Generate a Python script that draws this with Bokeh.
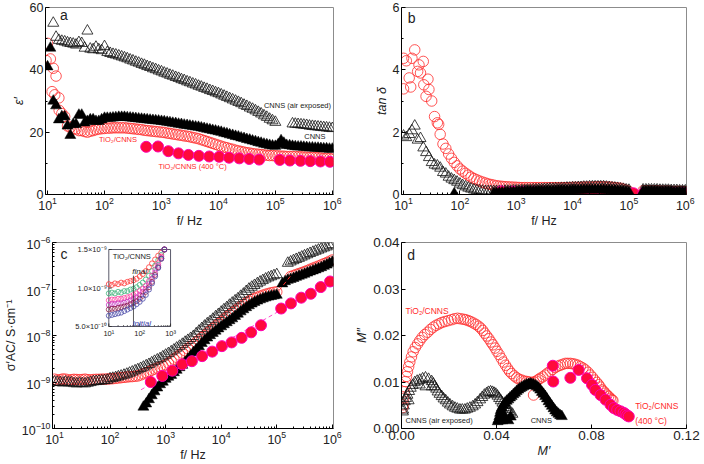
import math
from bokeh.plotting import figure
from bokeh.layouts import column, row
from bokeh.models import Range1d, FixedTicker, Label, LogScale, LinearScale, NumeralTickFormatter
from bokeh.core.properties import value
from bokeh.embed import file_html
from bokeh.resources import INLINE

nan = float("nan")

# ---------------- data ----------------
# measurement frequencies (20 per decade, 10 Hz .. 1 MHz)
MANTISSA = [1.0, 1.12, 1.26, 1.41, 1.58, 1.78, 2.0, 2.24, 2.51, 2.82,
            3.16, 3.55, 3.98, 4.47, 5.01, 5.62, 6.31, 7.08, 7.94, 8.91]
FREQ = [m * 10.0 ** e for e in range(1, 6) for m in MANTISSA] + [1.0e6]
# sparse frequencies of the TiO2/CNNS (400 °C) sample
F400 = [540, 870, 1320, 1990, 2970, 4540, 6900, 10300, 15400, 23300, 34700,
        52000, 120000, 180000, 276000, 410000, 620000, 910000]

# (a) permittivity, one row per decade
EPS_AIR = [nan, nan, 55.0, 50.5, 49.5, 49.2, 49.0, 48.7, 48.5, 48.3, 48.0, 48.8, 48.5, 47.0, 52.5, 46.7, 46.5, 47.3, 46.5, 46.2,
           47.5, 45.6, 45.3, 45.0, 44.8, 44.5, 44.2, 43.9, 43.6, 43.2, 42.9, 42.5, 42.2, 41.8, 41.5, 41.1, 40.8, 40.4, 40.1, 39.7,
           39.4, 39.0, 38.7, 38.3, 38.0, 37.6, 37.3, 36.9, 36.6, 36.2, 35.9, 35.5, 35.2, 34.8, 34.5, 34.1, 33.8, 33.4, 33.1, 32.7,
           32.4, 32.0, 31.6, 31.2, 30.8, 30.4, 30.0, 29.6, 29.2, 28.7, 28.3, 27.8, 27.4, 26.9, 26.4, 25.9, 25.3, 24.8, 24.2, 23.7,
           23.2, nan, nan, nan, nan, nan, 22.7, 22.6, 22.5, 22.4, 22.3, 22.2, 22.0, 21.9, 21.8, 21.7, 21.6, 21.5, 21.4, 21.3,
           21.2]
EPS_CNNS = [41.0, 47.0, 30.0, 28.5, 24.0, 25.0, 25.0, 22.0, 19.0, 22.5, 22.5, 25.5, 25.5, 23.0, 23.5, 24.0, 24.0, 23.5, 23.5, 24.0,
            24.5, 24.5, 24.5, 24.6, 24.7, 24.8, 24.8, 24.8, 24.7, 24.6, 24.5, 24.4, 24.3, 24.2, 24.1, 24.0, 23.9, 23.8, 23.7, 23.6,
            23.5, 23.4, 23.2, 23.1, 22.9, 22.8, 22.6, 22.5, 22.3, 22.2, 22.0, 21.9, 21.7, 21.6, 21.4, 21.2, 21.0, 20.8, 20.6, 20.4,
            20.2, 20.0, 19.7, 19.5, 19.2, 19.0, 18.7, 18.5, 18.2, 18.0, 17.7, 17.5, 17.2, 17.0, 16.7, 16.5, 16.2, 16.0, 15.8, 15.6,
            15.5, 16.0, 17.3, 16.5, 15.8, 15.7, 15.5, 15.4, 15.3, 15.3, 15.2, 15.1, 15.0, 15.0, 14.9, 14.9, 14.8, 14.7, 14.7, 14.6,
            14.6]
EPS_TIO = [48.5, 43.5, 40.5, 38.0, 31.0, 26.0, 25.0, 22.0, 21.5, 21.0, 21.0, 20.5, 20.5, 20.2, 20.0, 20.3, 20.5, 20.8, 21.0, 21.1,
           21.2, 21.3, 21.3, 21.4, 21.4, 21.4, 21.4, 21.4, 21.3, 21.2, 21.1, 21.0, 20.9, 20.8, 20.6, 20.5, 20.4, 20.3, 20.2, 20.1,
           20.0, 19.9, 19.7, 19.6, 19.4, 19.3, 19.1, 19.0, 18.8, 18.7, 18.5, 18.3, 18.1, 17.9, 17.6, 17.3, 17.0, 16.7, 16.4, 16.1,
           15.8, 15.5, 15.2, 15.0, 14.7, 14.5, 14.2, 14.0, 13.8, 13.6, 13.4, 13.3, 13.1, 13.0, 12.9, 12.8, 12.7, 12.6, 12.5, 12.5,
           12.4, 12.4, 12.3, 12.3, 12.2, 12.2, 12.2, 12.2, 12.1, 12.1, 12.0, 12.0, 11.9, 11.9, 11.8, 11.8, 11.7, 11.6, 11.6, 11.5,
           11.4]
EPS_TIO_LF_F = [9.4, 12.0, 13.4, 16.0]
EPS_TIO_LF_V = [43.0, 33.0, 32.0, 27.0]
EPS_400 = [15.3, 15.4, 13.9, 13.2, 12.7, 12.4, 12.2, 12.1, 11.8, 11.6, 11.4,
           11.2, 11.1, 10.9, 10.8, 10.7, 10.6, 10.5]

# (b) loss tangent
TAN_TIO = [4.37, 4.29, 3.74, 4.37, 4.64, 3.95, 3.90, 4.27, 3.15, 3.37, 3.00, 2.50, 2.30, 1.93, 1.62, 1.48, 1.30, 1.16, 1.03, 0.92,
           0.82, 0.75, 0.68, 0.62, 0.56, 0.51, 0.47, 0.43, 0.40, 0.37, 0.34, 0.32, 0.30, 0.28, 0.27, 0.26, 0.25, 0.245, 0.24, 0.235,
           0.23, 0.225, 0.22, 0.22, 0.22, 0.22, 0.22, 0.22, 0.22, 0.22, 0.22, 0.22, 0.22, 0.22, 0.22, 0.22, 0.22, 0.22, 0.22, 0.22,
           0.23, 0.23, 0.23, 0.23, 0.24, 0.24, 0.24, 0.24, 0.25, 0.25, 0.25, 0.25, 0.24, 0.24, 0.23, 0.22, 0.21, 0.20, 0.17, 0.14,
           0.10, nan, nan, nan, nan, 0.12, 0.12, 0.12, 0.12, 0.12, 0.12, 0.11, 0.11, 0.11, 0.11, 0.10, 0.10, 0.10, 0.10, 0.10,
           0.09]
TAN_TIO_LF_F = [10.0, 13.4, 18.8, 22.9, 27.1, 42.0]
TAN_TIO_LF_V = [3.39, 3.45, 4.16, 3.52, 3.70, 2.25]
TAN_AIR = [1.88, 1.83, 1.93, 2.05, 2.20, 1.75, 1.80, 1.50, 1.35, 1.19, 1.03, 0.95, 0.92, 0.85, 0.71, 0.66, 0.56, 0.50, 0.45, 0.40,
           0.34, 0.29, 0.25, 0.21, 0.18, 0.15, 0.13, 0.12, 0.11, 0.10, 0.10, 0.10, 0.10, 0.10, 0.10, 0.10, 0.11, 0.11, 0.11, 0.12,
           0.12, 0.12, 0.13, 0.13, 0.14, 0.14, 0.15, 0.15, 0.16, 0.16, 0.17, 0.17, 0.18, 0.18, 0.19, 0.19, 0.20, 0.20, 0.21, 0.21,
           0.22, 0.22, 0.23, 0.23, 0.24, 0.24, 0.25, 0.25, 0.25, 0.25, 0.25, 0.25, 0.24, 0.23, 0.22, 0.21, 0.20, 0.18, 0.17, 0.15,
           0.14, nan, nan, nan, nan, 0.15, 0.15, 0.15, 0.15, 0.15, 0.15, 0.14, 0.14, 0.14, 0.14, 0.13, 0.13, 0.13, 0.12, 0.12,
           0.12]
TAN_CNNS = ([nan] * 18 + [0.03, nan] +
            [nan] * 12 + [0.04, 0.045, 0.05, 0.055, 0.06, 0.065, 0.07, 0.075] +
            [0.08, 0.085, 0.09, 0.095, 0.10, 0.10, 0.10, 0.105, 0.11, 0.11, 0.11, 0.115, 0.12, 0.12, 0.12, 0.125, 0.13, 0.13, 0.13, 0.135] +
            [0.14, 0.14, 0.14, 0.145, 0.15, 0.15, 0.15, 0.15, 0.15, 0.15, 0.15, 0.15, 0.14, 0.14, 0.13, 0.13, 0.12, 0.11, 0.10, 0.09] +
            [0.08, nan, nan, nan, nan, 0.10, 0.10, 0.10, 0.10, 0.10, 0.10, 0.09, 0.09, 0.09, 0.09, 0.09, 0.08, 0.08, 0.08, 0.08] +
            [0.08])
TAN_400 = [0.10, 0.09, 0.08, 0.07, 0.07, 0.06, 0.06, 0.06, 0.06, 0.06, 0.06,
           0.06, 0.04, 0.04, 0.05, 0.05, 0.05, 0.05]

# (c) AC conductivity, in nS·cm⁻¹
NS = 1e-9
SIG_AIR = [1.00, 0.99, 0.98, 0.96, 1.00, 0.97, 0.97, 0.93, 0.92, 0.95, 0.93, 0.92, 0.95, 0.98, 1.02, 1.03, 1.05, 1.06, 1.08, 1.10,
           1.18, 1.21, 1.25, 1.30, 1.35, 1.41, 1.48, 1.56, 1.65, 1.75, 1.85, 1.97, 2.10, 2.25, 2.40, 2.60, 2.80, 3.00, 3.20, 3.50,
           3.8, 4.1, 4.5, 4.9, 5.4, 5.9, 6.5, 7.2, 7.9, 8.7, 9.6, 11.0, 12.5, 14.2, 16.0, 18.0, 20.0, 22.5, 25.5, 28.5,
           32, 36, 40, 45, 50, 56, 62, 70, 78, 89, 100, 110, 120, 131, 142, 153, 165, 175, 185, 195,
           205, nan, nan, nan, 360, 385, 410, 435, 460, 490, 520, 550, 585, 620, 655, 690, 730, 770, 810, 860,
           910]
SIG_TIO = [1.15, 1.10, 1.12, 1.16, 1.15, 1.10, 1.12, 1.14, 1.13, 1.12, 1.13, 1.15, 1.12, 1.11, 1.13, 1.14, 1.14, 1.15, 1.15, 1.16,
           1.17, 1.18, 1.20, 1.22, 1.24, 1.26, 1.28, 1.30, 1.31, 1.33, 1.35, 1.42, 1.50, 1.59, 1.68, 1.79, 1.90, 2.00, 2.10, 2.22,
           2.35, 2.55, 2.80, 3.10, 3.40, 3.80, 4.20, 4.70, 5.20, 5.80, 6.40, 7.20, 8.00, 9.00, 10.0, 11.3, 12.7, 14.3, 16.0, 18.0,
           20.0, 22.5, 25.0, 28.0, 31.0, 34.5, 38.0, 42.0, 46.0, 50.5, 55.0, 59.0, 63.0, 66.5, 70.0, 73.5, 77.0, 80.0, 83.0, 85.0,
           87.0, nan, nan, nan, nan, 185, 195, 205, 215, 225, 237, 250, 265, 280, 295, 310, 330, 350, 370, 395,
           420]
SIG_CNNS = ([nan] * 20 +
            [nan] * 12 + [0.29, 0.34, 0.42, 0.51, 0.62, 0.75, 0.88, 1.00] +
            [1.15, 1.28, 1.40, 1.60, 1.80, 2.05, 2.30, 2.65, 3.10, 3.65, 4.30, 5.00, 5.80, 6.80, 7.80, 8.90, 10.0, 11.2, 12.5, 14.0] +
            [15.5, 17.2, 19.0, 21.0, 23.0, 26.0, 29.0, 32.5, 36.0, 40.0, 44.0, 48.0, 52.0, 55.5, 59.0, 62.0, 65.0, 67.5, 70.0, 72.0] +
            [74.0, nan, 130, 145, 155, 162, 170, 180, 190, 200, 210, 222, 235, 247, 260, 275, 290, 310, 330, 355] +
            [380])
SIG_400 = [1.00, 1.35, 1.75, 2.40, 2.80, 3.60, 4.50, 5.90, 7.10, 8.90, 11.7, 16.6, 38.0, 49.0, 65.0, 79.0, 110, 145]
FIT_400_F = [360, 1.0e6]
FIT_400_S = [0.68, 150]
GAP_TIO_F = [1.1e5, 1.8e5]
GAP_TIO_S = [93, 195]

# (c) inset: TiO2/CNNS, initial -> final runs (nS·cm⁻¹)
INSET_F = FREQ[0:37:2]
INSET_RUNS = [
    ("#ff3b3b", [1.05, 1.04, 1.06, 1.05, 1.07, 1.06, 1.08, 1.09, 1.10, 1.12, 1.15, 1.18, 1.22, 1.27, 1.32, 1.37, 1.42, 1.46, 1.50]),
    ("#3fb37a", [0.93, 0.94, 0.93, 0.95, 0.94, 0.96, 0.96, 0.98, 0.99, 1.01, 1.04, 1.07, 1.11, 1.16, 1.22, 1.29, 1.36, 1.43, 1.50]),
    ("#ff3fa0", [0.84, 0.85, 0.85, 0.86, 0.86, 0.87, 0.88, 0.89, 0.91, 0.93, 0.96, 0.99, 1.03, 1.09, 1.16, 1.24, 1.32, 1.41, 1.50]),
    ("#c43cc4", [0.78, 0.79, 0.79, 0.80, 0.80, 0.81, 0.82, 0.84, 0.86, 0.88, 0.91, 0.95, 0.99, 1.05, 1.12, 1.20, 1.29, 1.39, 1.50]),
    ("#8a1f4a", [0.72, 0.73, 0.73, 0.74, 0.75, 0.76, 0.77, 0.79, 0.81, 0.83, 0.86, 0.90, 0.95, 1.01, 1.08, 1.17, 1.27, 1.38, 1.50]),
    ("#4a4aa8", [0.64, 0.65, 0.66, 0.67, 0.68, 0.70, 0.72, 0.74, 0.76, 0.79, 0.82, 0.86, 0.91, 0.98, 1.06, 1.15, 1.26, 1.38, 1.50]),
]
INSET_MARK_F = 63.0

# (d) electric modulus, (M', M'') pairs
D_TIO = [(0.0005, 0.0045), (0.0007, 0.0051), (0.0009, 0.0065), (0.0011, 0.0079), (0.0014, 0.0090),
         (0.0017, 0.0101), (0.0021, 0.0112), (0.0025, 0.0122), (0.0030, 0.0133), (0.0035, 0.0143),
         (0.0042, 0.0154), (0.0049, 0.0165), (0.0058, 0.0174), (0.0068, 0.0182), (0.0077, 0.0189),
         (0.0087, 0.0196), (0.0098, 0.0202), (0.0110, 0.0207), (0.0122, 0.0213), (0.0134, 0.0218),
         (0.0146, 0.0222), (0.0158, 0.0225), (0.0170, 0.0228), (0.0183, 0.0230), (0.0197, 0.0232),
         (0.0211, 0.0234), (0.0223, 0.0236), (0.0236, 0.0237), (0.0248, 0.0236), (0.0260, 0.0235),
         (0.0270, 0.0234), (0.0281, 0.0232), (0.0291, 0.0230), (0.0302, 0.0227), (0.0313, 0.0224),
         (0.0324, 0.0220), (0.0333, 0.0216), (0.0342, 0.0211), (0.0350, 0.0205), (0.0359, 0.0199),
         (0.0368, 0.0193), (0.0377, 0.0186), (0.0385, 0.0180), (0.0394, 0.0173), (0.0402, 0.0166),
         (0.0411, 0.0159), (0.0420, 0.0151), (0.0429, 0.0143), (0.0438, 0.0136), (0.0447, 0.0129),
         (0.0455, 0.0123), (0.0464, 0.0118), (0.0475, 0.0113), (0.0485, 0.0109), (0.0495, 0.0106),
         (0.0506, 0.0104), (0.0517, 0.0102), (0.0528, 0.0101), (0.0538, 0.0100), (0.0549, 0.0099),
         (0.0558, 0.0100), (0.0567, 0.0102), (0.0576, 0.0105), (0.0584, 0.0108), (0.0595, 0.0111),
         (0.0605, 0.0115), (0.0615, 0.0119), (0.0626, 0.0123), (0.0636, 0.0127), (0.0647, 0.0131),
         (0.0658, 0.0134), (0.0668, 0.0136), (0.0679, 0.0138), (0.0690, 0.0140), (0.0700, 0.0140),
         (0.0711, 0.0140), (0.0722, 0.0139), (0.0732, 0.0138), (0.0743, 0.0136), (0.0753, 0.0133),
         (0.0764, 0.0130), (0.0774, 0.0126), (0.0785, 0.0121), (0.0795, 0.0115), (0.0804, 0.0110),
         (0.0813, 0.0104), (0.0822, 0.0099), (0.0830, 0.0094), (0.0837, 0.0089), (0.0844, 0.0083),
         (0.0851, 0.0080), (0.0858, 0.0076), (0.0865, 0.0072), (0.0872, 0.0069), (0.0879, 0.0065),
         (0.0886, 0.0062), (0.0890, 0.0060), (0.0556, 0.0072)]
D_AIR = [(0.0006, 0.0036), (0.0007, 0.0040), (0.0010, 0.0049), (0.0014, 0.0058), (0.0019, 0.0065),
         (0.0025, 0.0072), (0.0032, 0.0080), (0.0039, 0.0087), (0.0047, 0.0093), (0.0056, 0.0099),
         (0.0066, 0.0102), (0.0077, 0.0104), (0.0089, 0.0107), (0.0101, 0.0109), (0.0114, 0.0106),
         (0.0127, 0.0101), (0.0134, 0.0096), (0.0140, 0.0090), (0.0146, 0.0085), (0.0152, 0.0079),
         (0.0160, 0.0074), (0.0169, 0.0069), (0.0177, 0.0064), (0.0186, 0.0060), (0.0195, 0.0055),
         (0.0204, 0.0051), (0.0215, 0.0047), (0.0225, 0.0044), (0.0235, 0.0042), (0.0246, 0.0040),
         (0.0256, 0.0040), (0.0267, 0.0040), (0.0277, 0.0042), (0.0288, 0.0044), (0.0300, 0.0047),
         (0.0310, 0.0051), (0.0320, 0.0056), (0.0331, 0.0062), (0.0340, 0.0067), (0.0349, 0.0072),
         (0.0358, 0.0075), (0.0366, 0.0078), (0.0375, 0.0079), (0.0383, 0.0078), (0.0390, 0.0076),
         (0.0397, 0.0074), (0.0404, 0.0070), (0.0411, 0.0065), (0.0418, 0.0060), (0.0425, 0.0055),
         (0.0432, 0.0050), (0.0439, 0.0045), (0.0446, 0.0041), (0.0453, 0.0037), (0.0460, 0.0034),
         (0.0467, 0.0031), (0.0077, 0.0094), (0.0101, 0.0090), (0.0127, 0.0090), (0.0030, 0.0060)]
D_CNNS = [(0.0405, 0.0015), (0.0408, 0.0019), (0.0412, 0.0026), (0.0415, 0.0033), (0.0418, 0.0039),
          (0.0422, 0.0044), (0.0429, 0.0050), (0.0436, 0.0055), (0.0443, 0.0059), (0.0450, 0.0062),
          (0.0457, 0.0066), (0.0464, 0.0069), (0.0471, 0.0073), (0.0478, 0.0076), (0.0485, 0.0080),
          (0.0492, 0.0083), (0.0499, 0.0086), (0.0506, 0.0088), (0.0513, 0.0090), (0.0520, 0.0092),
          (0.0527, 0.0094), (0.0535, 0.0095), (0.0542, 0.0096), (0.0549, 0.0095), (0.0556, 0.0094),
          (0.0563, 0.0092), (0.0570, 0.0090), (0.0577, 0.0087), (0.0584, 0.0083), (0.0591, 0.0078),
          (0.0598, 0.0074), (0.0605, 0.0069), (0.0612, 0.0064), (0.0619, 0.0058), (0.0626, 0.0053),
          (0.0633, 0.0048), (0.0640, 0.0043), (0.0647, 0.0038), (0.0654, 0.0034), (0.0661, 0.0031),
          (0.0668, 0.0028), (0.0675, 0.0026), (0.0415, 0.0017), (0.0425, 0.0017), (0.0436, 0.0023),
          (0.0450, 0.0017), (0.0460, 0.0025)]
D_400 = [(0.0637, 0.0135), (0.0639, 0.0101), (0.0711, 0.0109), (0.0746, 0.0126), (0.0781, 0.0108),
         (0.0802, 0.0094), (0.0816, 0.0083), (0.0838, 0.0072), (0.0859, 0.0062), (0.0880, 0.0051),
         (0.0894, 0.0044), (0.0908, 0.0040), (0.0922, 0.0037), (0.0935, 0.0034), (0.0943, 0.0031),
         (0.0950, 0.0028), (0.0957, 0.0026)]

# ---------------- styling ----------------
FONT = "Liberation Sans"
RED = "#ff2b2b"
RED_FILL = "#ff0a3c"
RED_EDGE = "#ff00b4"
BLK = "#111111"
TXT = "#222222"

LOG_X = (9.2, 1.05e6)
DEC_TICKS = [1e1, 1e2, 1e3, 1e4, 1e5, 1e6]
DEC_MINOR = [m * 10.0 ** e for e in range(1, 6) for m in range(2, 10)]


def ns(vals):
    return [v * NS for v in vals]


def unzip(pairs):
    return [a for a, _ in pairs], [b for _, b in pairs]


def make_fig(w, h, bl, br, bt, bb, tick_fs="12.5px", **kw):
    p = figure(width=w, height=h, output_backend="svg", toolbar_location=None, **kw)
    p.min_border_left = bl
    p.min_border_right = br
    p.min_border_top = bt
    p.min_border_bottom = bb
    p.xgrid.visible = False
    p.ygrid.visible = False
    p.outline_line_color = "#8c8c8c"
    p.outline_line_width = 1
    for ax in p.axis:
        ax.axis_line_color = "black"
        ax.major_tick_in = 4
        ax.major_tick_out = 0
        ax.minor_tick_in = 2
        ax.minor_tick_out = 0
        ax.major_tick_line_color = "black"
        ax.minor_tick_line_color = "black"
        ax.major_label_text_font = FONT
        ax.major_label_text_font_size = tick_fs
        ax.major_label_text_color = TXT
        ax.major_label_standoff = 2
        ax.axis_label_text_font = FONT
        ax.axis_label_text_font_size = "12.5px"
        ax.axis_label_text_font_style = "normal"
        ax.axis_label_text_color = TXT
        ax.axis_label_standoff = 1
    return p


def open_tri(p, x, y, **kw):
    p.scatter(x, y, marker="triangle", size=11, fill_color=None, line_color=BLK, line_width=0.8, **kw)


def fill_tri(p, x, y, **kw):
    p.scatter(x, y, marker="triangle", size=11, fill_color="black", line_color="black", line_width=0.5, **kw)


def open_circ(p, x, y, **kw):
    p.scatter(x, y, marker="circle", size=10.5, fill_color=None, line_color=RED, line_width=0.8, **kw)


def fill_circ(p, x, y, **kw):
    p.scatter(x, y, marker="circle", size=11, fill_color=RED_FILL, line_color=RED_EDGE, line_width=1.0, **kw)


def lab(p, x, y, text, fs="7.5px", color=TXT, align="left", style="normal", **kw):
    p.add_layout(Label(x=x, y=y, text=text, text_font=FONT, text_font_size=fs, text_color=color,
                       text_align=align, text_baseline="middle", text_font_style=style, **kw))


ROW1_H, ROW2_H, COL_W = 230, 234, 352

# ---------------- (a) ----------------
pa = make_fig(COL_W, ROW1_H, 45, 19, 7, 35, x_axis_type="log", x_range=Range1d(*LOG_X), y_range=Range1d(0, 60))
pa.xaxis.ticker = FixedTicker(ticks=DEC_TICKS, minor_ticks=DEC_MINOR)
pa.yaxis.ticker = FixedTicker(ticks=[0, 20, 40, 60], minor_ticks=[10, 30, 50])
pa.xaxis.axis_label = "f/ Hz"
pa.yaxis.axis_label = "ε′"
pa.yaxis.axis_label_text_font_style = "italic"
open_circ(pa, FREQ, EPS_TIO)
open_circ(pa, EPS_TIO_LF_F, EPS_TIO_LF_V)
open_tri(pa, FREQ, EPS_AIR)
fill_tri(pa, FREQ, EPS_CNNS)
fill_circ(pa, F400, EPS_400)
lab(pa, 16.5, 57.5, "a", fs="14px")
lab(pa, 9.5e5, 28.4, "CNNS (air exposed)", align="right")
lab(pa, 7.6e5, 18.6, "CNNS", align="right")
lab(pa, 80, 17.5, "TiO₂/CNNS", color=RED)
lab(pa, 890, 9.0, "TiO₂/CNNS (400 °C)", color=RED)

# ---------------- (b) ----------------
pb = make_fig(COL_W, ROW1_H, 49, 18, 7, 34, x_axis_type="log", x_range=Range1d(*LOG_X), y_range=Range1d(0, 6))
pb.xaxis.ticker = FixedTicker(ticks=DEC_TICKS, minor_ticks=DEC_MINOR)
pb.yaxis.ticker = FixedTicker(ticks=[0, 2, 4, 6], minor_ticks=[1, 3, 5])
pb.xaxis.axis_label = "f/ Hz"
pb.yaxis.axis_label = "tan δ"
pb.yaxis.axis_label_text_font_style = "italic"
open_circ(pb, FREQ, TAN_TIO)
open_circ(pb, TAN_TIO_LF_F, TAN_TIO_LF_V)
open_tri(pb, FREQ, TAN_AIR)
fill_circ(pb, F400, TAN_400)
fill_tri(pb, FREQ, TAN_CNNS)
lab(pb, 11.9, 5.65, "b", fs="14px")

# ---------------- (c) ----------------
C_BL, C_BR, C_BT, C_BB = 45, 19, 12, 33
C_BB_EXPECTED = 36   # room the bottom axis actually takes
pc = make_fig(COL_W, ROW2_H, C_BL, C_BR, C_BT, C_BB, x_axis_type="log", y_axis_type="log",
              x_range=Range1d(*LOG_X), y_range=Range1d(1e-10, 1e-6))
pc.xaxis.ticker = FixedTicker(ticks=DEC_TICKS, minor_ticks=DEC_MINOR)
pc.yaxis.ticker = FixedTicker(ticks=[1e-10, 1e-9, 1e-8, 1e-7, 1e-6],
                              minor_ticks=[m * 10.0 ** e for e in range(-10, -6) for m in range(2, 10)])
pc.xaxis.axis_label = "f/ Hz"
pc.yaxis.axis_label = "σ′AC/ S·cm⁻¹"
open_circ(pc, FREQ, ns(SIG_TIO))
open_tri(pc, FREQ, ns(SIG_AIR))
fill_tri(pc, FREQ, ns(SIG_CNNS))
pc.line(FIT_400_F, ns(FIT_400_S), line_color="#ff4fd0", line_dash="4 3", line_width=1)
pc.line(GAP_TIO_F, ns(GAP_TIO_S), line_color=RED, line_dash="4 3", line_width=1)
fill_circ(pc, F400, ns(SIG_400))
lab(pc, 12.8, 5.6e-7, "c", fs="14px")

# inset placed inside the frame of (c) through extra ranges
fw = COL_W - C_BL - C_BR
fh = ROW2_H - C_BT - C_BB_EXPECTED
IN_LEFT, IN_TOP, IN_DEC, IN_UNIT = 57.7, 7.0, 31.65, 77.0   # px: offset from frame, px/decade, px per nS
ix_lo = 10 ** (1 - IN_LEFT / IN_DEC)
ix_hi = 10 ** (3 + (fw - IN_LEFT - 2 * IN_DEC) / IN_DEC)
pxy = NS / IN_UNIT
iy_hi = 1.5e-9 + IN_TOP * pxy
iy_lo = 5e-10 - (fh - IN_TOP - IN_UNIT) * pxy
pc.extra_x_ranges = {"ix": Range1d(ix_lo, ix_hi)}
pc.extra_x_scales = {"ix": LogScale()}
pc.extra_y_ranges = {"iy": Range1d(iy_lo, iy_hi)}
pc.extra_y_scales = {"iy": LinearScale()}
IR = dict(x_range_name="ix", y_range_name="iy")
pxx = 10 ** (1 / IN_DEC)

pc.quad(left=[10], right=[1000], bottom=[5e-10], top=[1.5e-9], fill_color="white",
        line_color="#5a5a6a", line_width=1, **IR)
for color, vals in INSET_RUNS:
    pc.scatter(INSET_F, ns(vals), marker="circle", size=5,
               fill_color=None, line_color=color, line_width=0.8, **IR)
pc.line([INSET_MARK_F, INSET_MARK_F], [5e-10, 1.16e-9], line_color="#333333", line_width=0.8, **IR)
# inset ticks
in_major_x = [10, 100, 1000]
in_minor_x = [m * 10.0 ** e for e in (1, 2) for m in range(2, 10)]
pc.segment(x0=in_major_x, x1=in_major_x, y0=[5e-10] * 3, y1=[5e-10 + 3 * pxy] * 3, line_color="#333", **IR)
pc.segment(x0=in_minor_x, x1=in_minor_x, y0=[5e-10] * len(in_minor_x),
           y1=[5e-10 + 1.5 * pxy] * len(in_minor_x), line_color="#333", line_width=0.7, **IR)
in_y = [5e-10, 1.0e-9, 1.5e-9]
pc.segment(x0=[10] * 3, x1=[10 * pxx ** 3] * 3, y0=in_y, y1=in_y, line_color="#333", **IR)
pc.text(x=[10 / pxx ** 2] * 3, y=in_y, text=["5.0×10⁻¹⁰", "1.0×10⁻⁹", "1.5×10⁻⁹"],
        text_font=value(FONT), text_font_size="7.5px", text_color=TXT,
        text_align="right", text_baseline="middle", **IR)
pc.text(x=in_major_x, y=[5e-10 - 2 * pxy] * 3, text=["10¹", "10²", "10³"],
        text_font=value(FONT), text_font_size="7.5px", text_color=TXT,
        text_align="center", text_baseline="top", **IR)
lab(pc, 13.5, 1.41e-9, "TiO₂/CNNS", fs="7.5px", **IR)
lab(pc, 58, 1.22e-9, "final", fs="8px", style="italic", **IR)
lab(pc, 60, 5.4e-10, "initial", fs="8px", style="italic", color="#3a3aa8", **IR)

# ---------------- (d) ----------------
pd = make_fig(COL_W, ROW2_H, 49, 18, 12, 33, tick_fs="13.5px", x_range=Range1d(0, 0.12), y_range=Range1d(0, 0.04))
pd.xaxis.ticker = FixedTicker(ticks=[0, 0.04, 0.08, 0.12])
pd.yaxis.ticker = FixedTicker(ticks=[0, 0.01, 0.02, 0.03, 0.04])
pd.xaxis.formatter = NumeralTickFormatter(format="0.00")
pd.yaxis.formatter = NumeralTickFormatter(format="0.00")
pd.xaxis.axis_label = "M′"
pd.yaxis.axis_label = "M″"
pd.xaxis.axis_label_text_font_style = "italic"
pd.yaxis.axis_label_text_font_style = "italic"
open_circ(pd, *unzip(D_TIO))
open_tri(pd, *unzip(D_AIR))
fill_tri(pd, *unzip(D_CNNS))
fill_circ(pd, *unzip(D_400))
lab(pd, 0.0024, 0.0374, "d", fs="14px")
lab(pd, 0.0017, 0.0253, "TiO₂/CNNS", fs="8.5px", color=RED)
lab(pd, 0.0017, 0.0017, "CNNS (air exposed)", fs="7.5px")
lab(pd, 0.0544, 0.0017, "CNNS", fs="7.5px")
lab(pd, 0.0984, 0.0049, "TiO₂/CNNS", fs="8.5px", color=RED)
lab(pd, 0.0984, 0.0017, "(400 °C)", fs="8.5px", color=RED)

layout = column(row(pa, pb), row(pc, pd))
open("out.html", "w").write(file_html(layout, INLINE))
